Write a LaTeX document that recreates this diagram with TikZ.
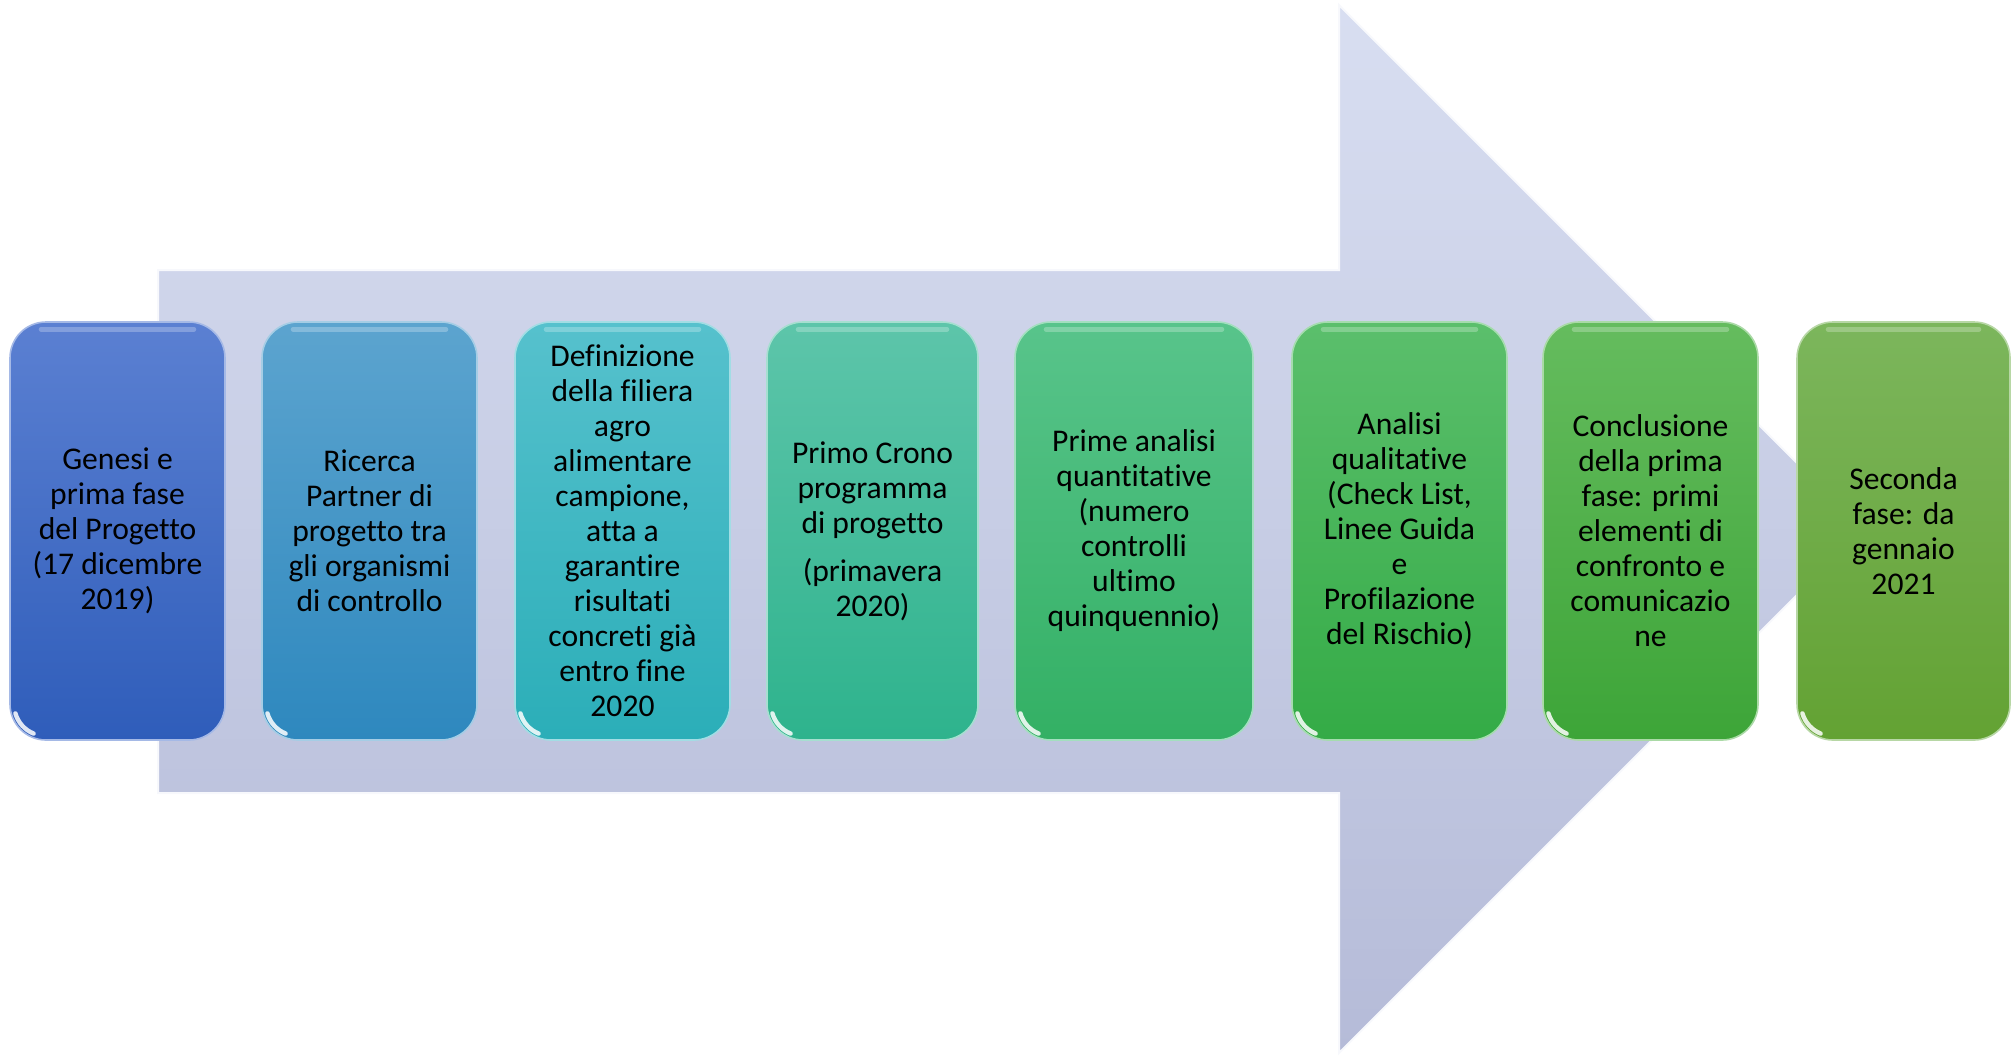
\documentclass[tikz,border=0pt]{standalone}
\usepackage{fontspec}
\setmainfont[Ligatures=NoCommon]{Carlito}
\usetikzlibrary{calc}
\definecolor{arrtop}{HTML}{D8DEF1}
\definecolor{arrbot}{HTML}{B5BBD8}
\definecolor{ca1}{HTML}{5B80D2}\definecolor{cb1}{HTML}{2F5DBA}
\definecolor{ca2}{HTML}{5CA4CF}\definecolor{cb2}{HTML}{2E88BE}
\definecolor{ca3}{HTML}{56C1CD}\definecolor{cb3}{HTML}{2BAEB8}
\definecolor{ca4}{HTML}{5DC5AA}\definecolor{cb4}{HTML}{2EB38D}
\definecolor{ca5}{HTML}{58C48B}\definecolor{cb5}{HTML}{33B064}
\definecolor{ca6}{HTML}{5BBF6C}\definecolor{cb6}{HTML}{34AB46}
\definecolor{ca7}{HTML}{65BC5E}\definecolor{cb7}{HTML}{3DA538}
\definecolor{ca8}{HTML}{7CB65C}\definecolor{cb8}{HTML}{63A233}
\tikzset{
  phasebox/.style={rounded corners=18pt, minimum height=209pt, inner sep=0pt,
    align=center, text=black, font=\fontsize{15.8}{17.5}\selectfont,
    line width=0.8pt},
  pc/.style={top color=ca#1, bottom color=cb#1, draw=ca#1!55!white},
  hl/.style={white, line width=2.2pt, line cap=round, opacity=0.85},
  topglow/.style={white, line width=2.5pt, line cap=round, opacity=0.25}
}
\newcommand{\gloss}[1]{%
  \draw[hl] ($(#1.south west)+(18pt,18pt)+(196:15.5pt)$) arc[start angle=196,end angle=248,radius=15.5pt];
  \draw[topglow] ($(#1.north west)+(16pt,-4pt)$) -- ($(#1.north east)+(-16pt,-4pt)$);
}
\begin{document}
\begin{tikzpicture}[x=0.5pt,y=-0.5pt]
\useasboundingbox (0,0) rectangle (2011,1056);
% big background arrow
\shade[top color=arrtop, bottom color=arrbot, draw=white!80!arrtop, line width=1pt]
  (158,270) -- (1339,270) -- (1339,5) -- (1863,529) -- (1339,1053) -- (1339,793) -- (158,793) -- cycle;
% phase boxes
\node[phasebox, pc=1, minimum width=107.5pt] (b1) at (117.5,531)
  {Genesi e\\prima fase\\del Progetto\\(17 dicembre\\2019)};
\node[phasebox, pc=2, minimum width=107.5pt] (b2) at (369.5,531)
  {Ricerca\\Partner di\\progetto tra\\gli organismi\\di controllo};
\node[phasebox, pc=3, minimum width=107.5pt] (b3) at (622.5,531)
  {Definizione\\della filiera\\agro\\alimentare\\campione,\\atta a\\garantire\\risultati\\concreti già\\entro fine\\2020};
\node[phasebox, pc=4, minimum width=105.5pt] (b4) at (872.5,531)
  {Primo Crono\\programma\\di progetto\\[6.5pt](primavera\\2020)};
\node[phasebox, pc=5, minimum width=119pt] (b5) at (1134,531)
  {Prime analisi\\quantitative\\(numero\\controlli\\ultimo\\quinquennio)};
\node[phasebox, pc=6, minimum width=107.5pt] (b6) at (1399.5,531)
  {Analisi\\qualitative\\(Check List,\\Linee Guida\\e\\Profilazione\\del Rischio)};
\node[phasebox, pc=7, minimum width=107.5pt] (b7) at (1650.5,531)
  {Conclusione\\della prima\\fase: primi\\elementi di\\confronto e\\comunicazio\\ne};
\node[phasebox, pc=8, minimum width=106.5pt] (b8) at (1903.5,531)
  {Seconda\\fase: da\\gennaio\\2021};
\foreach \b in {b1,b2,b3,b4,b5,b6,b7,b8} {\gloss{\b}}
\end{tikzpicture}
\end{document}
